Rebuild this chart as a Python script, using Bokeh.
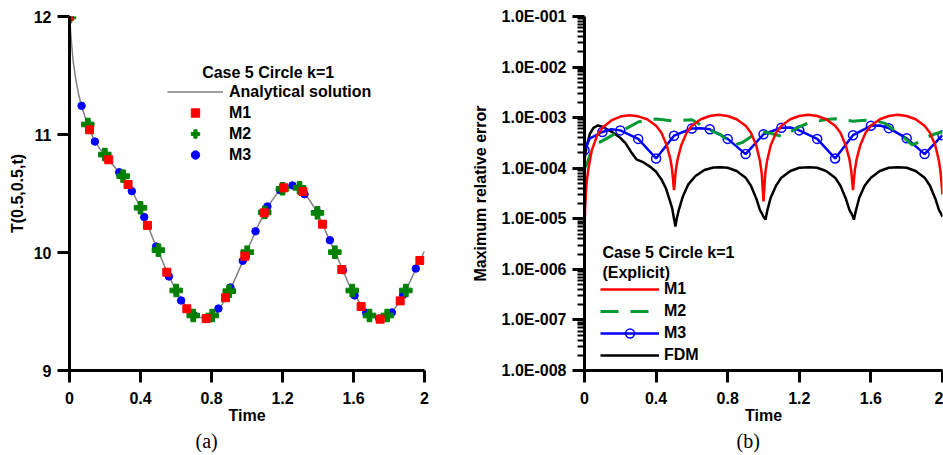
from bokeh.plotting import figure
from bokeh.layouts import row
from bokeh.models import (FixedTicker, CustomJSTickFormatter, Legend, LegendItem,
                          Label, Title, Range1d)
from bokeh.embed import file_html
from bokeh.resources import INLINE

FONT = "Liberation Sans"

# ---------------- panel (a) data ----------------
anal_t = [0.0, 0.01, 0.02, 0.035, 0.05, 0.068, 0.09, 0.11, 0.14, 0.17, 0.2, 0.24, 0.28,
          0.32, 0.36, 0.4, 0.44, 0.48, 0.52, 0.56, 0.6, 0.64, 0.68, 0.72, 0.77, 0.82,
          0.86, 0.9, 0.94, 0.98, 1.02, 1.06, 1.1, 1.14, 1.18, 1.22, 1.26, 1.3, 1.34,
          1.38, 1.42, 1.46, 1.5, 1.54, 1.58, 1.62, 1.66, 1.7, 1.75, 1.8, 1.84, 1.88,
          1.92, 1.96, 2.0]
anal_T = [12.0, 11.80, 11.63, 11.47, 11.35, 11.24, 11.14, 11.05, 10.95, 10.88, 10.83,
          10.75, 10.68, 10.60, 10.50, 10.38, 10.23, 10.08, 9.94, 9.80, 9.68, 9.58, 9.50,
          9.455, 9.44, 9.47, 9.56, 9.67, 9.80, 9.94, 10.08, 10.22, 10.34, 10.44, 10.52,
          10.555, 10.565, 10.545, 10.47, 10.38, 10.26, 10.12, 9.99, 9.85, 9.71, 9.61,
          9.52, 9.46, 9.435, 9.47, 9.54, 9.64, 9.76, 9.89, 10.01]

m1_t = [0.0, 0.113, 0.221, 0.33, 0.439, 0.548, 0.661, 0.77, 0.879, 0.988, 1.097, 1.207,
        1.315, 1.425, 1.534, 1.643, 1.75, 1.863, 1.974]
m1_T = [12.0, 11.04, 10.786, 10.576, 10.23, 9.833, 9.523, 9.44, 9.616, 9.969, 10.336,
        10.548, 10.517, 10.24, 9.856, 9.542, 9.435, 9.59, 9.932]

m2_t = [0.0, 0.103, 0.199, 0.302, 0.4, 0.501, 0.601, 0.697, 0.804, 0.9, 1.001, 1.1, 1.2,
        1.296, 1.397, 1.495, 1.593, 1.69, 1.79, 1.895]
m2_T = [12.0, 11.085, 10.83, 10.647, 10.379, 10.02, 9.678, 9.466, 9.466, 9.672, 10.003,
        10.34, 10.54, 10.548, 10.336, 10.003, 9.678, 9.466, 9.466, 9.678]

m3_t = [0.0, 0.068, 0.143, 0.21, 0.28, 0.351, 0.421, 0.488, 0.56, 0.629, 0.70, 0.77,
        0.839, 0.907, 0.976, 1.048, 1.115, 1.185, 1.256, 1.324, 1.397, 1.467, 1.54,
        1.606, 1.671, 1.745, 1.816, 1.88, 1.951]
m3_T = [12.0, 11.243, 10.94, 10.81, 10.68, 10.52, 10.30, 10.05, 9.797, 9.593, 9.47, 9.44,
        9.525, 9.703, 9.93, 10.18, 10.39, 10.53, 10.568, 10.494, 10.34, 10.104, 9.85,
        9.636, 9.489, 9.44, 9.492, 9.641, 9.864]

# ---------------- panel (b) data ----------------
e1_t = [0.0, 0.003, 0.01, 0.02, 0.04, 0.07, 0.1, 0.15, 0.2, 0.25, 0.3, 0.35, 0.4, 0.43,
        0.46, 0.48, 0.49, 0.5, 0.51, 0.52, 0.54, 0.57, 0.6, 0.65, 0.7, 0.75, 0.8, 0.85,
        0.9, 0.93, 0.96, 0.98, 0.99, 1.0, 1.01, 1.02, 1.04, 1.07, 1.1, 1.15, 1.2, 1.25,
        1.3, 1.35, 1.4, 1.43, 1.46, 1.48, 1.49, 1.5, 1.51, 1.52, 1.54, 1.57, 1.6, 1.65,
        1.7, 1.75, 1.8, 1.85, 1.9, 1.93, 1.96, 1.98, 1.99, 2.0]
e1_v = [5.5e-6, 1.5e-5, 4.5e-5, 9.0e-5, 2.2e-4, 4.4e-4, 6.3e-4, 8.8e-4, 1.05e-3, 1.11e-3,
        1.06e-3, 9.3e-4, 6.9e-4, 5.0e-4, 2.8e-4, 1.5e-4, 9.0e-5, 3.7e-5, 9.0e-5, 1.5e-4,
        2.8e-4, 5.0e-4, 6.9e-4, 9.3e-4, 1.08e-3, 1.14e-3, 1.08e-3, 9.3e-4, 6.9e-4, 5.0e-4,
        2.8e-4, 1.4e-4, 8.0e-5, 2.2e-5, 8.0e-5, 1.4e-4, 2.8e-4, 5.0e-4, 6.9e-4, 9.3e-4,
        1.08e-3, 1.14e-3, 1.08e-3, 9.3e-4, 6.9e-4, 5.0e-4, 2.8e-4, 1.5e-4, 9.0e-5, 3.7e-5,
        9.0e-5, 1.5e-4, 2.8e-4, 5.0e-4, 6.9e-4, 9.3e-4, 1.08e-3, 1.14e-3, 1.08e-3, 9.3e-4,
        6.9e-4, 5.0e-4, 2.8e-4, 1.4e-4, 8.0e-5, 3.0e-5]

e2_t = [0.0, 0.015, 0.04, 0.08, 0.12, 0.17, 0.23, 0.3, 0.35, 0.4, 0.45, 0.5, 0.55, 0.6,
        0.64, 0.67, 0.72, 0.76, 0.8, 0.84, 0.88, 0.93, 0.97, 1.01, 1.06, 1.11, 1.15, 1.2,
        1.25, 1.3, 1.35, 1.4, 1.45, 1.5, 1.55, 1.59, 1.64, 1.68, 1.72, 1.77, 1.83, 1.87,
        1.92, 1.96, 2.0]
e2_v = [1.0e-4, 1.25e-4, 2.3e-4, 3.2e-4, 3.8e-4, 4.8e-4, 6.0e-4, 8.2e-4, 9.0e-4, 9.4e-4,
        9.0e-4, 8.6e-4, 8.9e-4, 9.1e-4, 7.5e-4, 6.3e-4, 5.3e-4, 4.6e-4, 3.6e-4, 2.9e-4,
        3.2e-4, 4.2e-4, 4.9e-4, 5.2e-4, 4.7e-4, 4.2e-4, 5.2e-4, 6.6e-4, 7.8e-4, 8.5e-4,
        9.2e-4, 9.5e-4, 9.0e-4, 8.5e-4, 8.8e-4, 8.9e-4, 8.4e-4, 7.7e-4, 6.0e-4, 4.5e-4,
        2.9e-4, 3.3e-4, 4.2e-4, 4.8e-4, 5.2e-4]

e3_line_t = [0.0, 0.03, 0.1, 0.15, 0.2, 0.3, 0.4, 0.5, 0.6, 0.65, 0.7, 0.8, 0.9, 1.0, 1.1,
             1.15, 1.2, 1.3, 1.4, 1.5, 1.6, 1.65, 1.7, 1.8, 1.9, 2.0]
e3_line_v = [2.3e-4, 3.9e-4, 5.2e-4, 5.9e-4, 5.6e-4, 3.8e-4, 1.56e-4, 4.4e-4, 6.1e-4,
             6.2e-4, 5.9e-4, 3.8e-4, 1.9e-4, 4.7e-4, 6.3e-4, 6.4e-4, 5.6e-4, 3.8e-4,
             1.56e-4, 4.5e-4, 6.9e-4, 7.0e-4, 6.2e-4, 3.9e-4, 1.9e-4, 4.5e-4]
e3_t = [0.0, 0.1, 0.2, 0.3, 0.4, 0.5, 0.6, 0.7, 0.8, 0.9, 1.0, 1.1, 1.2, 1.3, 1.4, 1.5,
        1.6, 1.7, 1.8, 1.9, 2.0]
e3_v = [2.3e-4, 5.2e-4, 5.6e-4, 3.8e-4, 1.56e-4, 4.4e-4, 6.1e-4, 5.9e-4, 3.8e-4, 1.9e-4,
        4.7e-4, 6.3e-4, 5.6e-4, 3.8e-4, 1.56e-4, 4.5e-4, 6.9e-4, 6.2e-4, 3.9e-4, 1.9e-4,
        4.5e-4]

fdm_t = [0.0, 0.01, 0.03, 0.05, 0.075, 0.1, 0.15, 0.2, 0.23, 0.26, 0.29, 0.33, 0.37, 0.4,
         0.43, 0.455, 0.475, 0.49, 0.5, 0.508, 0.515, 0.527, 0.55, 0.58, 0.62, 0.67,
         0.72, 0.76, 0.8, 0.85, 0.9, 0.93, 0.96, 0.98, 0.99, 1.0, 1.011, 1.02, 1.04,
         1.07, 1.1, 1.15, 1.2, 1.26, 1.3, 1.35, 1.4, 1.43, 1.46, 1.48, 1.49, 1.5, 1.505,
         1.515, 1.535, 1.565, 1.6, 1.65, 1.7, 1.75, 1.8, 1.85, 1.9, 1.93, 1.96, 1.98,
         1.99, 2.0]
fdm_v = [1.5e-4, 2.5e-4, 4.8e-4, 6.3e-4, 7.0e-4, 6.6e-4, 5.3e-4, 4.0e-4, 3.1e-4, 2.1e-4,
         1.5e-4, 1.3e-4, 1.05e-4, 8.5e-5, 6.0e-5, 4.0e-5, 2.4e-5, 1.6e-5, 1.0e-5, 7.0e-6,
         1.0e-5, 1.5e-5, 2.8e-5, 4.8e-5, 7.0e-5, 9.2e-5, 1.03e-4, 1.05e-4, 1.02e-4,
         8.8e-5, 6.5e-5, 4.5e-5, 2.5e-5, 1.5e-5, 1.3e-5, 1.1e-5, 9.6e-6, 1.4e-5, 2.6e-5,
         4.5e-5, 6.5e-5, 8.8e-5, 1.02e-4, 1.05e-4, 1.02e-4, 8.8e-5, 6.5e-5, 4.5e-5,
         2.5e-5, 1.5e-5, 1.3e-5, 1.1e-5, 9.6e-6, 1.4e-5, 2.6e-5, 4.5e-5, 6.5e-5, 8.8e-5,
         1.02e-4, 1.05e-4, 1.02e-4, 8.8e-5, 6.5e-5, 4.5e-5, 2.5e-5, 1.5e-5, 1.3e-5, 1.1e-5]

x_ticks = [0.0, 0.4, 0.8, 1.2, 1.6, 2.0]
ya_ticks = [9, 10, 11, 12]
yb_ticks = [1e-8, 1e-7, 1e-6, 1e-5, 1e-4, 1e-3, 1e-2, 1e-1]
yb_minor = [m * 10.0 ** k for k in range(-8, -1) for m in range(2, 10)]


def style_axis(ax, label_standoff, tick_standoff):
    ax.axis_line_width = 3
    ax.axis_line_color = "black"
    ax.major_tick_line_width = 3
    ax.major_tick_line_color = "black"
    ax.major_tick_out = 12
    ax.major_tick_in = 0
    ax.minor_tick_line_color = None
    ax.major_label_text_font = FONT
    ax.major_label_text_font_size = "16px"
    ax.major_label_text_font_style = "bold"
    ax.major_label_text_color = "black"
    ax.major_label_standoff = tick_standoff
    ax.axis_label_text_font = FONT
    ax.axis_label_text_font_size = "16px"
    ax.axis_label_text_font_style = "bold"
    ax.axis_label_text_color = "black"
    ax.axis_label_standoff = label_standoff


def style_legend(leg, gw, gh):
    leg.glyph_width = gw
    leg.glyph_height = gh
    leg.label_height = gh
    leg.spacing = 0
    leg.padding = 0
    leg.margin = 0
    leg.border_line_color = None
    leg.background_fill_alpha = 0
    leg.label_text_font = FONT
    leg.label_text_font_size = "16px"
    leg.label_text_font_style = "bold"
    leg.label_text_color = "black"


x_fmt = CustomJSTickFormatter(code="return (Math.round(tick * 10) / 10).toString();")

# ================= panel (a) =================
pa = figure(width=460, height=455, output_backend="svg", toolbar_location=None,
            x_range=Range1d(0, 2), y_range=Range1d(9, 12),
            min_border_left=69, min_border_right=36, min_border_top=16, min_border_bottom=85)
pa.outline_line_color = None
pa.grid.visible = False
pa.xaxis.ticker = FixedTicker(ticks=x_ticks)
pa.xaxis.formatter = x_fmt
pa.yaxis.ticker = FixedTicker(ticks=ya_ticks)
pa.xaxis.axis_label = "Time"
pa.yaxis.axis_label = "T(0.5,0.5,t)"
style_axis(pa.xaxis[0], 0, 9)
style_axis(pa.yaxis[0], 5, 6)

ra = pa.line(anal_t, anal_T, line_color="#808080", line_width=1.5)
r3 = pa.scatter(m3_t, m3_T, marker="circle", size=7.5, color="#0000ff")
r2 = pa.scatter(m2_t, m2_T, marker="plus", size=12.5, color="#008000")
r1 = pa.scatter(m1_t, m1_T, marker="square", size=8, color="#ff0000")

leg_a = Legend(items=[LegendItem(label="Analytical solution", renderers=[ra]),
                      LegendItem(label="M1", renderers=[r1]),
                      LegendItem(label="M2", renderers=[r2]),
                      LegendItem(label="M3", renderers=[r3])],
               location=(98, 205))
style_legend(leg_a, 56, 21)
leg_a.label_standoff = 6
pa.add_layout(leg_a)
pa.add_layout(Label(x=1.132, y=11.525, text="Case 5 Circle  k=1", text_align="center",
                    text_baseline="middle", text_font=FONT, text_font_size="16px",
                    text_font_style="bold", text_color="black"))
pa.add_layout(Title(text="(a)", align="left", offset=126, text_font="Liberation Serif",
                    text_font_size="20px", text_font_style="normal", text_color="black",
                    standoff=2), "below")

# ================= panel (b) =================
pb = figure(width=483, height=455, output_backend="svg", toolbar_location=None,
            x_range=Range1d(0, 2), y_range=Range1d(1e-8, 1e-1), y_axis_type="log",
            min_border_left=124, min_border_right=1, min_border_top=14, min_border_bottom=85)
pb.outline_line_color = None
pb.grid.visible = False
pb.xaxis.ticker = FixedTicker(ticks=x_ticks)
pb.xaxis.formatter = x_fmt
pb.yaxis.ticker = FixedTicker(ticks=yb_ticks, minor_ticks=yb_minor)
pb.yaxis.formatter = CustomJSTickFormatter(code="""
const e = Math.round(Math.log10(tick));
const s = e < 0 ? '-' : '+';
return '1.0E' + s + String(Math.abs(e)).padStart(3, '0');
""")
pb.xaxis.axis_label = "Time"
pb.yaxis.axis_label = "Maximum relative error"
style_axis(pb.xaxis[0], 0, 9)
style_axis(pb.yaxis[0], 10, 6)
pb.yaxis.minor_tick_line_color = "black"
pb.yaxis.minor_tick_line_width = 2
pb.yaxis.minor_tick_out = 7
pb.yaxis.minor_tick_in = 0

rf = pb.line(fdm_t, fdm_v, line_color="black", line_width=2.5)
rb_l = pb.line(e3_line_t, e3_line_v, line_color="#0000ff", line_width=2.5)
rb_m = pb.scatter(e3_t, e3_v, marker="circle", size=9, line_color="#0000ff",
                  fill_color=None, line_width=1.5)
rg = pb.line(e2_t, e2_v, line_color="#009933", line_width=3, line_dash="18 12")
rr = pb.line(e1_t, e1_v, line_color="#ff0000", line_width=2.5)

leg_b = Legend(items=[LegendItem(label="M1", renderers=[rr]),
                      LegendItem(label="M2", renderers=[rg]),
                      LegendItem(label="M3", renderers=[rb_l, rb_m]),
                      LegendItem(label="FDM", renderers=[rf])],
               location=(16, 4))
style_legend(leg_b, 59, 22)
leg_b.label_standoff = 5
pb.add_layout(leg_b)
for txt, yv in (("Case 5 Circle k=1", 2.12e-6), ("(Explicit)", 8.85e-7)):
    pb.add_layout(Label(x=0.1, y=yv, text=txt, text_align="left", text_baseline="middle",
                        text_font=FONT, text_font_size="16px", text_font_style="bold",
                        text_color="black"))
pb.add_layout(Title(text="(b)", align="left", offset=152, text_font="Liberation Serif",
                    text_font_size="20px", text_font_style="normal", text_color="black",
                    standoff=2), "below")

layout = row(pa, pb)
open("out.html", "w").write(file_html(layout, INLINE))
